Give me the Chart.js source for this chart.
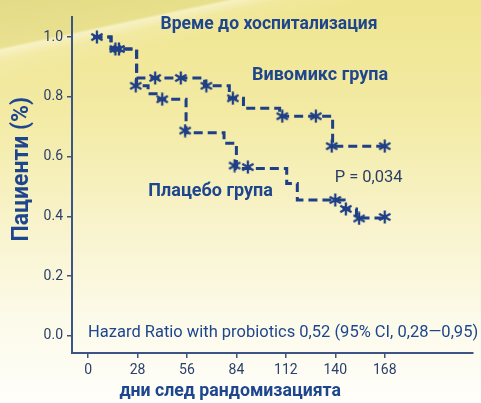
<!DOCTYPE html>
<html lang="bg">
<head>
    <meta charset="UTF-8">
    <title>Време до хоспитализация</title>
    <script src="https://cdn.jsdelivr.net/npm/chart.js"></script>
    <style>
        html, body { margin: 0; padding: 0; }
        body {
            width: 481px; height: 403px; overflow: hidden;
            background:
                linear-gradient(167.9deg, rgba(200,196,115,0.30) 0%, rgba(200,196,115,0.18) 9.4%, rgba(255,255,255,0.45) 10%, rgba(255,255,255,0.12) 12%, rgba(255,255,255,0) 16%),
                linear-gradient(to bottom, #efe58f 0%, #f3eba6 30%, #f8f3cb 55%, #fcfae8 78%, #fffefa 100%);
        }
        #wrap { width: 481px; height: 403px; position: relative; }
    </style>
</head>
<body>
<div id="wrap"><canvas id="kmChart"></canvas></div>

<script>
    // Kaplan-Meier steps (day, survival after the step)
    const vivoTimes = [3, 13, 27.5, 66, 80, 88, 108.5, 138.5, 168];
    const vivoSurv = [1.0, 0.96, 0.863, 0.837, 0.795, 0.762, 0.735, 0.635, 0.635];
    const placeboTimes = [3, 13, 27.5, 34, 40, 55.5, 77, 84, 112.5, 118.5, 145, 152, 168];
    const placeboSurv = [1.0, 0.96, 0.837, 0.81, 0.792, 0.68, 0.645, 0.56, 0.51, 0.455, 0.425, 0.395, 0.395];

    // censored observations (stars)
    const vivoCensorDays = [5, 17.5, 38, 52.5, 67, 82, 110, 129, 138, 168];
    const vivoCensorSurv = [1.0, 0.96, 0.863, 0.863, 0.837, 0.795, 0.735, 0.735, 0.635, 0.635];
    const placeboCensorDays = [15.5, 27, 42, 55, 83, 90.5, 140, 146, 153.5, 168];
    const placeboCensorSurv = [0.96, 0.837, 0.792, 0.687, 0.57, 0.565, 0.455, 0.425, 0.393, 0.398];

    const xTicks = [0, 28, 56, 84, 112, 140, 168];
    const yTicks = [0, 0.2, 0.4, 0.6, 0.8, 1.0];

    const navy = '#1f3f86';
    const textBlue = '#1e468e';
    const tickColor = '#2c3f6c';
    const axisColor = '#3d5585';

    const toPts = (xs, ys) => xs.map((x, i) => ({ x: x, y: ys[i] }));

    // six-armed asterisk used as marker
    function makeStar(size, color) {
        const c = document.createElement('canvas');
        c.width = size; c.height = size;
        const g = c.getContext('2d');
        g.strokeStyle = color;
        g.lineWidth = 2.3;
        g.lineCap = 'butt';
        const r = size / 2 - 0.5;
        for (let k = 0; k < 3; k++) {
            const a = Math.PI / 2 + k * Math.PI / 3;
            g.beginPath();
            g.moveTo(size / 2 - r * Math.cos(a), size / 2 - r * Math.sin(a));
            g.lineTo(size / 2 + r * Math.cos(a), size / 2 + r * Math.sin(a));
            g.stroke();
        }
        return c;
    }
    const star = makeStar(14, navy);

    // text labels placed in data coordinates
    const notes = [
        { text: 'Време до хоспитализация', x: 102.5, y: 1.04, font: 'bold 17.5px Roboto', color: textBlue, align: 'center' },
        { text: 'Вивомикс група', x: 131.4, y: 0.87, font: 'bold 18px Roboto', color: textBlue, align: 'center' },
        { text: 'Плацебо група', x: 69.4, y: 0.484, font: 'bold 18px Roboto', color: textBlue, align: 'center' },
        { text: 'P = 0,034', x: 158.9, y: 0.528, font: '16.5px Roboto', color: '#2d3e66', align: 'center' },
        { text: 'Hazard Ratio with probiotics 0,52 (95% CI, 0,28\u20140,95)', x: 0, y: 0.01, font: '16.5px Roboto', color: textBlue, align: 'left' }
    ];

    const notesPlugin = {
        id: 'notes',
        afterDatasetsDraw(chart) {
            const { ctx, scales } = chart;
            ctx.save();
            ctx.textBaseline = 'middle';
            notes.forEach(n => {
                ctx.font = n.font;
                ctx.fillStyle = n.color;
                ctx.textAlign = n.align;
                ctx.fillText(n.text, scales.x.getPixelForValue(n.x), scales.y.getPixelForValue(n.y));
            });
            // axis titles (offset from the axis centres, as in the original)
            ctx.textAlign = 'center';
            ctx.fillStyle = textBlue;
            ctx.font = 'bold 17.7px Roboto';
            ctx.fillText('дни след рандомизацията', scales.x.getPixelForValue(80.5), 392);
            ctx.translate(22, scales.y.getPixelForValue(0.558));
            ctx.rotate(-Math.PI / 2);
            ctx.font = 'bold 23px Roboto';
            ctx.fillText('Пациенти (%)', 0, 0);
            ctx.restore();
        }
    };

    const lineStyle = {
        borderColor: navy,
        borderWidth: 3,
        borderDash: [9, 5],
        stepped: 'before',
        pointRadius: 0,
        fill: false,
        showLine: true
    };
    const starStyle = {
        showLine: false,
        pointStyle: star,
        pointRadius: 7,
        borderColor: navy,
        backgroundColor: navy
    };

    const ctx = document.getElementById('kmChart').getContext('2d');
    const kmChart = new Chart(ctx, {
        type: 'scatter',
        data: {
            datasets: [
                Object.assign({ label: 'Вивомикс група', data: toPts(vivoTimes, vivoSurv) }, lineStyle),
                Object.assign({ label: 'Плацебо група', data: toPts(placeboTimes, placeboSurv) }, lineStyle),
                Object.assign({ label: 'Вивомикс цензурирани', data: toPts(vivoCensorDays, vivoCensorSurv) }, starStyle),
                Object.assign({ label: 'Плацебо цензурирани', data: toPts(placeboCensorDays, placeboCensorSurv) }, starStyle)
            ]
        },
        options: {
            responsive: true,
            maintainAspectRatio: false,
            animation: false,
            layout: { padding: { top: 17, right: 1, left: 0, bottom: 0 } },
            plugins: {
                legend: { display: false },
                tooltip: { enabled: false }
            },
            scales: {
                x: {
                    type: 'linear',
                    min: -9.1,
                    max: 218,
                    afterBuildTicks: s => { s.ticks = xTicks.map(v => ({ value: v })); },
                    afterFit: s => { s.height = 50; },
                    grid: { drawOnChartArea: false, drawTicks: true, tickLength: 5, color: axisColor, lineWidth: 1.5 },
                    border: { color: axisColor, width: 2 },
                    ticks: { color: tickColor, font: { family: 'Roboto', size: 14 }, padding: 4, maxRotation: 0 }
                },
                y: {
                    type: 'linear',
                    min: -0.057,
                    max: 1.067,
                    afterBuildTicks: s => { s.ticks = yTicks.map(v => ({ value: v })); },
                    afterFit: s => { s.width = 72; },
                    grid: { drawOnChartArea: false, drawTicks: true, tickLength: 5, color: axisColor, lineWidth: 1.5 },
                    border: { color: axisColor, width: 2 },
                    ticks: {
                        color: tickColor,
                        font: { family: 'Roboto', size: 14 },
                        padding: 4,
                        callback: v => v.toFixed(1)
                    }
                }
            }
        },
        plugins: [notesPlugin]
    });
</script>
</body>
</html>
